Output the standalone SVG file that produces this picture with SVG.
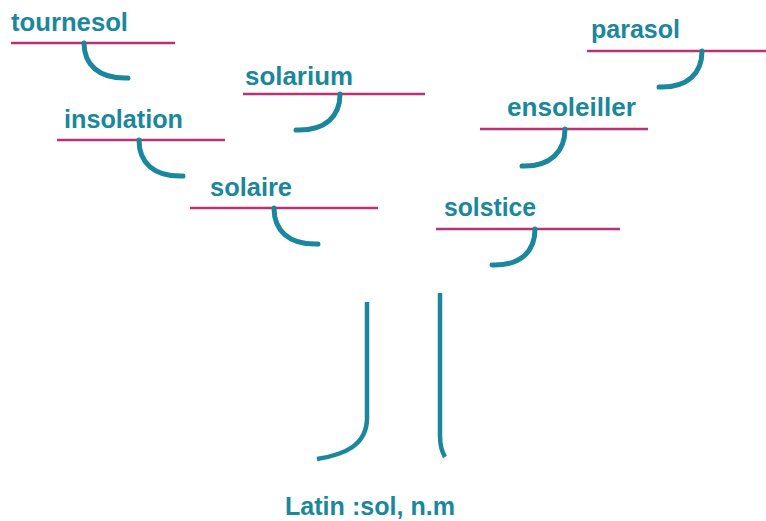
<svg xmlns="http://www.w3.org/2000/svg" width="766" height="521" viewBox="0 0 766 521">
<style>
.t{font-family:"Liberation Sans",Arial,sans-serif;font-weight:bold;font-size:25px;fill:#1a879c}
.u{stroke:#b8336f;stroke-width:2.5;fill:none}
.h{stroke:#1a879c;stroke-width:5;fill:none;stroke-linecap:round}
.k{stroke:#1a879c;stroke-width:4.5;fill:none}
</style>
<rect width="766" height="521" fill="#fff"/>
<g id="tournesol">
<text class="t" x="11" y="31" textLength="117" lengthAdjust="spacingAndGlyphs">tournesol</text>
<line class="u" x1="11" y1="43" x2="175" y2="43"/>
</g>
<g id="solarium">
<text class="t" x="245" y="85" textLength="108" lengthAdjust="spacingAndGlyphs">solarium</text>
<line class="u" x1="243" y1="94" x2="425" y2="94"/>
</g>
<g id="insolation">
<text class="t" x="64" y="128" textLength="119" lengthAdjust="spacingAndGlyphs">insolation</text>
<line class="u" x1="57" y1="140" x2="225" y2="140"/>
</g>
<g id="solaire">
<text class="t" x="210" y="196" textLength="82" lengthAdjust="spacingAndGlyphs">solaire</text>
<line class="u" x1="190" y1="208" x2="378" y2="208"/>
</g>
<g id="parasol">
<text class="t" x="591" y="38" textLength="89" lengthAdjust="spacingAndGlyphs">parasol</text>
<line class="u" x1="587" y1="51" x2="766" y2="51"/>
</g>
<g id="ensoleiller">
<text class="t" x="507" y="116" textLength="129" lengthAdjust="spacingAndGlyphs">ensoleiller</text>
<line class="u" x1="480" y1="129" x2="648" y2="129"/>
</g>
<g id="solstice">
<text class="t" x="444" y="216" textLength="92" lengthAdjust="spacingAndGlyphs">solstice</text>
<line class="u" x1="436" y1="229" x2="620" y2="229"/>
</g>
<g id="root">
<text class="t" x="285" y="515" textLength="170" lengthAdjust="spacingAndGlyphs">Latin :sol, n.m</text>
</g>
<g id="connectors">
<path class="h" d="M84,43 C84,64 98,79 128,78"/>
<path class="h" d="M340,94 C340,116 326,131 296,130"/>
<path class="h" d="M139,140 C139,162 153,177 183,176"/>
<path class="h" d="M274,208 C274,230 288,245 318,244"/>
<path class="h" d="M702,51 C702,73 688,88 659,87"/>
<path class="h" d="M565,129 C565,151 551,167 522,166"/>
<path class="h" d="M535,229 C535,251 521,266 492,265"/>
<path class="k" d="M367,302 L367,418 C367,446 343,455 317,459"/>
<path class="k" d="M440,293 L440,436 C440,446 442,452 445,457"/>
</g>
</svg>
